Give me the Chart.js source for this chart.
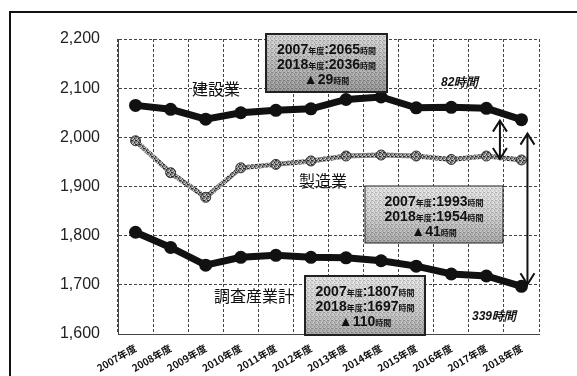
<!DOCTYPE html>
<html>
<head>
<meta charset="utf-8">
<script src="https://cdn.jsdelivr.net/npm/chart.js@4"></script>
<style>
  html, body { margin: 0; padding: 0; background: #fff; }
  #wrap { width: 577px; height: 376px; position: relative; }
</style>
</head>
<body>
<div id="wrap"><canvas id="hoursChart"></canvas></div>
<script>
const years = ['2007年度', '2008年度', '2009年度', '2010年度', '2011年度', '2012年度',
               '2013年度', '2014年度', '2015年度', '2016年度', '2017年度', '2018年度'];
const construction = [2065, 2057, 2037, 2050, 2055, 2058, 2077, 2082, 2060, 2061, 2059, 2036];
const manufacturing = [1993, 1928, 1878, 1938, 1945, 1952, 1962, 1964, 1962, 1955, 1962, 1954];
const allIndustries = [1807, 1776, 1740, 1756, 1760, 1756, 1755, 1749, 1738, 1722, 1718, 1697];
const yMin = 1600, yMax = 2200, yStep = 100;

const seriesLabels = ['建設業', '製造業', '調査産業計'];
const summaries = [
    [['2007', '年度', ':2065', '時間'], ['2018', '年度', ':2036', '時間'], ['▲29', '時間']],
    [['2007', '年度', ':1993', '時間'], ['2018', '年度', ':1954', '時間'], ['▲41', '時間']],
    [['2007', '年度', ':1807', '時間'], ['2018', '年度', ':1697', '時間'], ['▲110', '時間']]
];
const gapLabels = ['82時間', '339時間'];

const JP = '"Noto Sans CJK JP", sans-serif';
const NUM = '"Liberation Sans", Arial, sans-serif';

// dithered grey like the scanned original
function ditherPattern(base, dark, light) {
    const c = document.createElement('canvas');
    c.width = 4; c.height = 4;
    const g = c.getContext('2d');
    g.fillStyle = base; g.fillRect(0, 0, 4, 4);
    g.fillStyle = dark; g.fillRect(0, 0, 1, 1); g.fillRect(2, 2, 1, 1); g.fillRect(3, 0, 1, 1);
    g.fillStyle = light; g.fillRect(1, 2, 1, 1); g.fillRect(2, 0, 1, 1); g.fillRect(0, 3, 1, 1);
    return g.createPattern(c, 'repeat');
}

const greyLine = ditherPattern('#7e7e7e', '#2a2a2a', '#d0d0d0');

function drawBox(ctx, x, y, w, h, lines, strongBorder, dark) {
    ctx.save();
    const grad = ctx.createLinearGradient(0, y, 0, y + h);
    grad.addColorStop(0, dark ? '#d6d6d6' : '#ececec');
    grad.addColorStop(0.55, dark ? '#a8a8a8' : '#c8c8c8');
    grad.addColorStop(1, dark ? '#7a7a7a' : '#939393');
    ctx.fillStyle = grad;
    ctx.fillRect(x, y, w, h);
    ctx.globalAlpha = 0.35;
    ctx.fillStyle = ditherPattern('#bdbdbd', '#555', '#fff');
    ctx.fillRect(x, y, w, h);
    ctx.globalAlpha = 1;
    ctx.strokeStyle = '#222';
    ctx.lineWidth = strongBorder ? 2 : 1;
    ctx.strokeRect(x, y, w, h);

    const cx = x + w / 2;
    lines.forEach((parts, i) => {
        const ly = y + 16 + i * 15;
        const fonts = parts.map(p => /[年度時間]/.test(p) ? 'bold 8px ' + JP : 'bold 14px ' + NUM);
        let total = 0;
        parts.forEach((p, k) => { ctx.font = fonts[k]; total += ctx.measureText(p).width; });
        let px = cx - total / 2;
        ctx.fillStyle = '#111';
        ctx.textBaseline = 'alphabetic';
        parts.forEach((p, k) => {
            ctx.font = fonts[k];
            ctx.fillText(p, px, ly + 4);
            px += ctx.measureText(p).width;
        });
    });
    ctx.restore();
}

function arrowHead(ctx, x, y, dir) {
    ctx.beginPath();
    ctx.moveTo(x - 7, y - dir * 11);
    ctx.lineTo(x, y);
    ctx.lineTo(x + 7, y - dir * 11);
    ctx.stroke();
}

const decorations = {
    id: 'decorations',
    beforeDraw(chart) {
        const ctx = chart.ctx;
        ctx.save();
        ctx.fillStyle = '#fff';
        ctx.fillRect(0, 0, chart.width, chart.height);
        // outer frame of the scanned figure
        ctx.strokeStyle = '#111';
        ctx.lineWidth = 2;
        ctx.beginPath();
        ctx.moveTo(10, chart.height);
        ctx.lineTo(10, 12);
        ctx.lineTo(chart.width, 12);
        ctx.stroke();
        ctx.restore();
    },
    afterDatasetsDraw(chart) {
        const ctx = chart.ctx;
        const xs = chart.scales.x, ys = chart.scales.y;
        const last = years.length - 1;

        // series names
        ctx.save();
        ctx.fillStyle = '#111';
        ctx.textAlign = 'left';
        ctx.textBaseline = 'middle';
        ctx.font = '16px ' + JP;
        ctx.fillText(seriesLabels[0], 192, 89);
        ctx.fillText(seriesLabels[1], 299, 181);
        ctx.fillText(seriesLabels[2], 214, 296);

        // gap labels
        ctx.font = 'italic bold 12px ' + NUM;
        ctx.fillText(gapLabels[0], 441, 83);
        ctx.fillText(gapLabels[1], 472, 317);

        // arrows
        ctx.strokeStyle = '#111';
        ctx.lineWidth = 2;
        const ax1 = (xs.getPixelForValue(last - 1) + xs.getPixelForValue(last)) / 2 - 4;
        const t1 = ys.getPixelForValue(construction[last]) + 1;
        const b1 = ys.getPixelForValue(manufacturing[last]) - 1;
        ctx.beginPath(); ctx.moveTo(ax1, t1); ctx.lineTo(ax1, b1); ctx.stroke();
        arrowHead(ctx, ax1, t1, -1);
        arrowHead(ctx, ax1, b1, 1);

        const ax2 = xs.getPixelForValue(last) + 6;
        const t2 = ys.getPixelForValue(construction[last]) + 14;
        const b2 = ys.getPixelForValue(allIndustries[last]) - 2;
        ctx.beginPath(); ctx.moveTo(ax2, t2); ctx.lineTo(ax2, b2); ctx.stroke();
        arrowHead(ctx, ax2, t2, -1);
        arrowHead(ctx, ax2, b2, 1);
        ctx.restore();

        // summary boxes
        drawBox(ctx, 266, 34, 121, 58, summaries[0], true, true);
        drawBox(ctx, 365, 186, 138, 57, summaries[1], false, false);
        drawBox(ctx, 305, 276, 120, 59, summaries[2], true, false);
    }
};

const ctx = document.getElementById('hoursChart').getContext('2d');
new Chart(ctx, {
    type: 'line',
    data: {
        labels: years,
        datasets: [{
            label: seriesLabels[0],
            data: construction,
            borderColor: '#111',
            backgroundColor: '#111',
            borderWidth: 7,
            pointRadius: 6.5,
            pointBorderWidth: 0,
            tension: 0
        }, {
            label: seriesLabels[1],
            data: manufacturing,
            borderColor: greyLine,
            backgroundColor: greyLine,
            borderWidth: 5,
            pointRadius: 5,
            pointBorderColor: '#333',
            pointBorderWidth: 1,
            tension: 0
        }, {
            label: seriesLabels[2],
            data: allIndustries,
            borderColor: '#111',
            backgroundColor: '#111',
            borderWidth: 7,
            pointRadius: 6.5,
            pointBorderWidth: 0,
            tension: 0
        }]
    },
    options: {
        responsive: true,
        maintainAspectRatio: false,
        animation: false,
        layout: { padding: { left: 0, right: 38, top: 39, bottom: 0 } },
        plugins: {
            legend: { display: false },
            tooltip: { enabled: false }
        },
        scales: {
            x: {
                offset: true,
                grid: {
                    offset: true,
                    color: '#444',
                    lineWidth: 1,
                    drawTicks: false
                },
                border: { display: true, color: '#444', dash: [3, 2] },
                ticks: {
                    minRotation: 30,
                    maxRotation: 30,
                    autoSkip: false,
                    padding: 8,
                    color: '#111',
                    font: { family: JP, size: 10, weight: 'bold' }
                },
                afterFit(scale) { scale.height = 376 - 334; }
            },
            y: {
                min: yMin,
                max: yMax,
                ticks: {
                    stepSize: yStep,
                    padding: 18,
                    color: '#222',
                    font: { family: NUM, size: 16 },
                    callback: v => v.toLocaleString('en-US')
                },
                grid: {
                    color: '#444',
                    lineWidth: 1,
                    drawTicks: false
                },
                border: { display: true, color: '#444', dash: [3, 2] },
                afterFit(scale) { scale.width = 118; }
            }
        }
    },
    plugins: [decorations]
});
</script>
</body>
</html>
